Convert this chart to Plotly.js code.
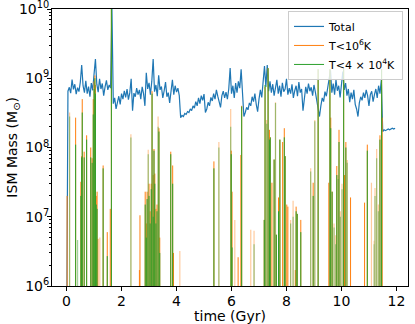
<!DOCTYPE html>
<html>
<head>
<meta charset="utf-8">
<script src="https://cdn.plot.ly/plotly-3.0.1.min.js"></script>
<style>
  html, body { margin: 0; padding: 0; background: #fff; }
  #plot { width: 415px; height: 324px; }
</style>
</head>
<body>
<div id="plot"></div>
<script>
// total ISM mass, in units of 1e8 Msun, sampled every 0.05 Gyr from t = 0
let totalStart = 0;
let totalStep = 0.05;
let totalMass = [
    0.001, 6.5, 7.4, 6.1, 9.6, 6.9, 8.2, 5.9, 7.3, 6.4, 8.8, 15.5, 7.8, 6.2, 9.2, 6.0, 7.6, 5.4, 8.5, 6.7,
    11.5, 19.0, 8.2, 6.3, 9.8, 7.0, 8.4, 5.6, 7.5, 9.3, 6.8, 8.0, 7.2, 100, 4.3, 5.2, 3.6, 4.8, 5.5, 4.2,
    6.0, 5.0, 6.6, 5.3, 7.0, 4.9, 6.2, 9.8, 3.4, 6.1, 5.4, 7.2, 5.8, 6.8, 5.0, 7.5, 6.0, 4.0, 12.0, 7.0,
    8.6, 5.8, 9.0, 19.0, 6.4, 8.0, 5.5, 11.0, 6.8, 7.6, 5.2, 6.6, 8.8, 5.4, 6.2, 4.4, 7.0, 9.5, 5.8, 7.8,
    6.3, 7.2, 5.6, 2.7, 2.9, 2.8, 3.1, 3.0, 3.3, 3.2, 3.6, 3.4, 4.0, 3.7, 4.6, 4.0, 5.2, 4.3, 5.6, 4.8,
    5.9, 3.2, 3.6, 4.5, 4.0, 5.3, 4.7, 6.0, 5.0, 6.8, 5.5, 4.4, 3.8, 5.6, 6.5, 5.2, 6.3, 5.0, 7.0, 14.0,
    6.0, 7.8, 5.2, 8.5, 6.2, 9.0, 7.2, 13.5, 5.0, 2.8, 3.2, 3.8, 3.5, 4.4, 4.0, 5.4, 4.6, 6.0, 4.2, 3.3,
    5.0, 6.8, 5.3, 8.0, 15.0, 7.5, 15.5, 6.5, 9.0, 6.2, 8.2, 5.6, 7.4, 9.5, 6.0, 7.8, 5.4, 8.6, 6.4, 7.0,
    9.8, 5.8, 7.2, 6.0, 8.2, 5.2, 6.6, 7.8, 5.5, 8.8, 6.2, 7.0, 3.4, 5.0, 7.5, 6.0, 8.4, 6.5, 7.4, 5.6,
    8.0, 6.3, 5.0, 3.8, 2.8, 4.0, 5.2, 4.6, 6.4, 5.5, 7.2, 9.0, 13.0, 6.2, 8.4, 5.8, 9.5, 6.6, 7.8, 5.3,
    8.2, 12.5, 6.8, 8.5, 5.6, 7.0, 4.5, 6.2, 5.0, 6.8, 4.2, 3.6, 2.8, 4.4, 5.4, 4.8, 6.2, 5.2, 6.8, 5.6,
    4.0, 5.8, 6.5, 4.6, 5.8, 7.0, 5.2, 7.8, 6.0, 9.4, 1.7, 1.8, 1.75, 1.8, 1.85, 1.8, 1.85, 1.9, 1.85, 1.9
];

// spikes of cool (T<1e6 K) and cold (T<4e4 K) gas, 0 = no cold gas at that time
let spikeTime = [
    0.02, 0.33, 0.52, 0.55, 0.57, 0.64, 0.73, 0.88, 0.93, 0.97, 1.00, 1.03, 1.05, 1.08, 1.11, 1.14,
    1.33, 1.48, 1.59, 1.63, 2.65, 2.67, 2.86, 2.90, 2.93, 3.00, 3.04, 3.08, 3.11, 3.15, 3.18, 3.21,
    3.25, 3.29, 3.36, 3.39, 3.79, 3.86, 3.89, 5.36, 5.99, 6.02, 6.24, 6.34, 6.37, 7.19, 7.22, 7.33,
    7.38, 7.41, 7.47, 7.55, 7.63, 7.71, 7.76, 7.86, 7.92, 7.95, 8.01, 8.05, 8.32, 8.35, 8.39, 8.52,
    8.97, 9.15, 9.54, 9.58, 9.61, 9.66, 9.83, 9.91, 10.08, 10.11, 10.16, 10.33, 10.84, 10.94, 11.40,
    11.46, 11.48
];
let coolMass = [
    2.0e7, 2.7e8, 3.2e7, 7.5e7, 5.0e8, 8.7e7, 1.5e8, 1.0e8, 7.0e7, 5.0e8, 9.0e8, 1.1e9, 8.0e8, 2.0e7, 2.3e7, 4.8e6,
    5.5e7, 6.0e6, 1.3e7, 1.2e10, 1.7e6, 1.05e7, 2.3e7, 8.0e6, 2.3e7, 3.0e7, 1.2e7, 3.0e7, 6.5e8, 4.0e7, 9.5e7, 4.2e7,
    1.3e7, 1.5e7, 1.9e8, 5.0e6, 8.7e7, 5.5e7, 3.0e6, 6.3e7, 9.0e7, 2.3e7, 2.6e6, 7.8e7, 4.0e8, 9.0e6, 7.5e8, 1.4e9,
    1.8e8, 1.4e8, 3.1e7, 6.7e7, 5.5e6, 1.9e7, 1.3e8, 1.2e8, 1.9e8, 7.5e7, 1.5e7, 1.4e7, 1.7e6, 1.4e7, 1.1e7, 9.0e6,
    3.1e7, 1.35e9, 3.1e7, 1.35e9, 2.7e8, 2.3e7, 5.4e7, 1.8e8, 1.35e9, 4.0e7, 1.2e8, 1.9e7, 1.6e7, 1.1e8, 1.5e8,
    1.35e9, 2.7e8
];
let coldMass = [
    0, 1.1e8, 2.0e7, 7.2e7, 3.2e8, 7.2e7, 1.3e8, 7.2e7, 6.0e7, 3.0e8, 7.0e8, 1.0e9, 6.0e8, 1.5e7, 1.3e7, 0,
    5.0e7, 2.7e6, 0, 1.2e10, 0, 0, 1.5e7, 5.0e6, 1.8e7, 2.0e7, 8.0e6, 2.5e7, 6.0e8, 1.0e7, 9.0e7, 3.0e7,
    8.0e6, 1.2e7, 1.7e8, 3.0e6, 8.0e7, 3.0e7, 0, 5.0e7, 8.0e7, 3.6e6, 0, 0, 3.9e8, 9.0e6, 8.0e8, 1.4e9,
    1.3e8, 1.4e8, 0, 6.7e7, 5.5e6, 1.2e7, 1.3e8, 0, 1.4e8, 7.5e7, 0, 0, 0, 1.2e7, 1.1e7, 6.0e6,
    2.0e7, 1.35e9, 0, 1.35e9, 1.9e8, 2.3e7, 4.0e7, 1.2e8, 1.35e9, 0, 1.0e8, 0, 0, 9.0e7, 1.3e8,
    1.35e9, 0
];

// fainter spikes (drawn lighter in the original)
let faintTime = [
    0.11, 0.40, 1.21, 2.34, 2.97, 3.33, 4.12, 5.54, 5.97, 6.12, 6.70, 6.82, 7.28, 7.60, 8.15, 8.24,
    8.88, 9.03, 9.73, 9.79, 9.88, 9.96, 10.02, 10.21, 11.09, 11.19, 11.22, 11.28, 11.34
];
let faintCool = [
    3.2e8, 0, 5.0e6, 1.55e8, 9.3e7, 2.8e8, 3.2e6, 1.2e8, 3.6e8, 9.0e6, 6.5e6, 6.3e6, 2.5e8, 4.5e8, 9.0e6, 1.7e7,
    5.0e7, 2.5e8, 8.0e6, 5.4e6, 4.0e7, 1.2e7, 3.0e7, 6.6e7, 3.1e7, 4.5e6, 2.6e7, 9.5e7, 1.5e7
];
let faintCold = [
    2.8e8, 4.6e6, 0, 1.4e8, 8.0e7, 2.0e8, 0, 1.0e8, 2.0e8, 0, 0, 4.0e6, 2.2e8, 4.4e8, 8.0e6, 1.0e7,
    4.5e7, 2.4e8, 7.0e6, 4.0e6, 3.5e7, 1.0e7, 2.5e7, 6.0e7, 0, 4.0e6, 2.0e7, 7.0e7, 1.2e7
];

// y tick labels
let massTicks = [1e6, 1e7, 1e8, 1e9, 1e10];
let massTickText = ['10<sup>6</sup>', '10<sup>7</sup>', '10<sup>8</sup>', '10<sup>9</sup>', '10<sup>10</sup>'];

let totalTime = totalMass.map((v, i) => totalStart + i * totalStep);

// vertical line from below the axis up to each spike value
function spikeLines(times, masses) {
    let x = [], y = [];
    times.forEach((t, i) => {
        if (!masses[i]) return;
        x.push(t, t, null);
        y.push(1, masses[i], null);
    });
    return {x: x, y: y};
}

let coolFaint = spikeLines(faintTime, faintCool);
let coldFaint = spikeLines(faintTime, faintCold);
let cool = spikeLines(spikeTime, coolMass);
let cold = spikeLines(spikeTime, coldMass);

let totalTrace = {
    x: totalTime,
    y: totalMass.map(v => v * 1e8),
    mode: 'lines',
    name: 'Total',
    line: {color: '#1f77b4', width: 1.2}
};

let coolFaintTrace = {
    x: coolFaint.x, y: coolFaint.y, mode: 'lines', showlegend: false, hoverinfo: 'skip',
    opacity: 0.4, line: {color: '#ff7f0e', width: 1.2}
};
let coolTrace = {
    x: cool.x, y: cool.y, mode: 'lines', name: 'T&lt;10<sup>6</sup>K',
    line: {color: '#ff7f0e', width: 1}
};
let coldFaintTrace = {
    x: coldFaint.x, y: coldFaint.y, mode: 'lines', showlegend: false, hoverinfo: 'skip',
    opacity: 0.45, line: {color: '#2ca02c', width: 1.2}
};
let coldTrace = {
    x: cold.x, y: cold.y, mode: 'lines', name: 'T&lt;4 × 10<sup>4</sup>K',
    line: {color: '#2ca02c', width: 1}
};

let data = [totalTrace, coolFaintTrace, coolTrace, coldFaintTrace, coldTrace];

let font = {family: 'DejaVu Sans', size: 14, color: '#000'};

let layout = {
    width: 415,
    height: 324,
    margin: {l: 52, r: 7, t: 9, b: 38},
    paper_bgcolor: '#fff',
    plot_bgcolor: 'rgba(0,0,0,0)',
    font: font,
    showlegend: true,
    xaxis: {
        range: [-0.53, 12.42],
        tick0: 0,
        dtick: 2,
        ticks: 'outside',
        ticklen: 4,
        tickcolor: '#000',
        ticklabelstandoff: -2,
        showline: true,
        mirror: true,
        linecolor: '#000',
        linewidth: 1,
        showgrid: false,
        zeroline: false,
        tickfont: font
    },
    yaxis: {
        type: 'log',
        range: [6, 10],
        tickmode: 'array',
        tickvals: massTicks,
        ticktext: massTickText,
        ticklabeloverflow: 'allow',
        ticklabelstandoff: -5,
        ticks: 'outside',
        ticklen: 4,
        tickcolor: '#000',
        minor: {ticks: 'outside', ticklen: 2, dtick: 'D1', tickcolor: '#000', showgrid: false},
        showline: true,
        mirror: true,
        linecolor: '#000',
        linewidth: 1,
        showgrid: false,
        zeroline: false,
        tickfont: font
    },
    annotations: [
        {text: 'time (Gyr)', xref: 'paper', yref: 'paper', x: 0.5, y: -0.077, borderpad: 0,
         xanchor: 'center', yanchor: 'top', showarrow: false, font: font},
        {text: 'ISM Mass (M<sub>⊙</sub>)', xref: 'paper', yref: 'paper', x: -0.112, y: 0.5,
         xanchor: 'center', yanchor: 'middle', textangle: -90, showarrow: false, font: font}
    ],
    legend: {
        x: 0.986,
        y: 0.993,
        xanchor: 'right',
        yanchor: 'top',
        bgcolor: 'rgba(255,255,255,0.8)',
        bordercolor: '#cccccc',
        borderwidth: 1,
        itemwidth: 30,
        tracegroupgap: 0,
        font: {family: 'DejaVu Sans', size: 11, color: '#000'}
    }
};

Plotly.newPlot('plot', data, layout, {displayModeBar: false, staticPlot: true});
</script>
</body>
</html>
